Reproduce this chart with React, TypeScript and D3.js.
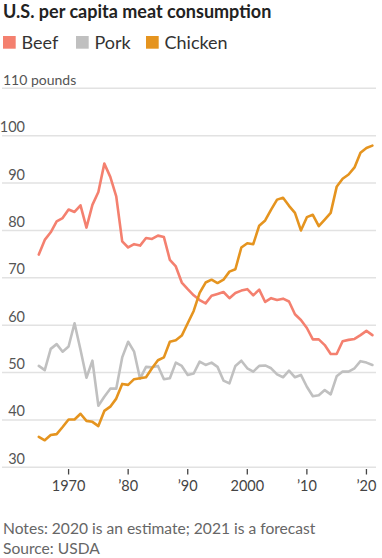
import React from "react";
import * as d3 from "d3";

const years: number[] = d3.range(1965, 2022);

const beef: number[] = [
  74.9, 78.0, 79.6, 81.9, 82.6, 84.4, 83.9, 85.3, 80.6, 85.4,
  88.1, 94.1, 91.3, 87.2, 77.7, 76.4, 77.1, 76.8, 78.4, 78.2,
  78.9, 78.6, 73.8, 72.4, 69.0, 67.6, 66.3, 65.3, 64.6, 66.2,
  66.6, 67.0, 65.7, 66.8, 67.3, 67.6, 66.3, 67.5, 64.9, 65.7,
  65.3, 65.6, 65.0, 62.3, 61.1, 59.4, 57.0, 57.0, 55.8, 53.9,
  53.9, 56.6, 56.9, 57.1, 57.9, 58.8, 57.9,
];

const pork: number[] = [
  51.4, 50.5, 55.0, 56.0, 54.4, 55.5, 60.4, 54.8, 48.9, 52.5,
  43.0, 44.9, 46.6, 46.6, 53.2, 56.5, 54.4, 48.7, 51.2, 51.1,
  51.4, 48.6, 48.8, 52.1, 51.4, 49.5, 49.8, 52.3, 51.6, 52.1,
  51.2, 48.3, 47.7, 51.4, 52.5, 50.9, 50.2, 51.4, 51.5, 50.9,
  49.6, 49.0, 50.4, 49.0, 49.5, 47.0, 45.0, 45.2, 46.3, 45.4,
  49.2, 50.2, 50.2, 50.9, 52.4, 52.1, 51.6,
];

const chicken: number[] = [
  36.4, 35.7, 36.8, 37.0, 38.5, 40.1, 40.1, 41.3, 39.8, 39.6,
  38.7, 41.9, 42.8, 44.5, 47.6, 47.4, 48.6, 48.8, 49.0, 50.9,
  52.6, 53.2, 56.5, 56.8, 57.8, 60.4, 63.0, 66.8, 69.0, 69.6,
  68.9, 69.6, 71.3, 71.8, 76.4, 77.3, 77.1, 81.0, 82.1, 84.4,
  86.5, 86.9, 85.2, 83.7, 80.0, 82.8, 83.3, 80.9, 82.3, 83.7,
  89.2, 90.9, 91.8, 93.3, 96.4, 97.4, 97.9,
];

const seriesNames: string[] = ["Beef", "Pork", "Chicken"];
const seriesColors: string[] = ["#f4806f", "#c0c0c0", "#e5941f"];

const yTicks: number[] = [30, 40, 50, 60, 70, 80, 90, 100, 110];
const xTicks: number[] = [1970, 1980, 1990, 2000, 2010, 2020];
const xTickLabels: string[] = ["1970", "\u201980", "\u201990", "2000", "\u201910", "\u201920"];

const title = "U.S. per capita meat consumption";
const noteLines: string[] = [
  "Notes: 2020 is an estimate; 2021 is a forecast",
  "Source: USDA",
];

const W = 382;
const H = 558;
const FONT = "Lato, 'Noto Sans', sans-serif";

export default function App() {
  const x = d3.scaleLinear().domain([1965, 2021]).range([38.8, 372.4]);
  const y = d3.scaleLinear().domain([30, 110]).range([467.3, 88.3]);

  const line = d3
    .line<number>()
    .x((_, i) => x(years[i]))
    .y((d) => y(d));

  const data = [beef, pork, chicken];
  const drawOrder = [1, 0, 2];

  const legendX = [3, 76, 146];

  return (
    <div style={{ position: "absolute", left: 0, top: 0 }}>
      <svg width={W} height={H} style={{ display: "block" }}>
        <rect width={W} height={H} fill="#fff" />
        <text x={3} y={17.5} fontFamily={FONT} fontWeight={700} fontSize={18} fill="#222">
          {title}
        </text>
        {seriesNames.map((n, i) => (
          <g key={n}>
            <rect x={legendX[i]} y={36} width={12.7} height={12.7} fill={seriesColors[i]} />
            <text x={legendX[i] + 18.5} y={49} fontFamily={FONT} fontSize={18} fill="#333">
              {n}
            </text>
          </g>
        ))}
        {yTicks.map((t) => (
          <g key={t}>
            <line x1={2} x2={376} y1={y(t)} y2={y(t)} stroke="#e2e2e2" strokeWidth={1.5} />
            {t === 110 ? (
              <text x={3} y={y(t) - 3} fontFamily={FONT} fontSize={14} fill="#555">
                110 pounds
              </text>
            ) : (
              <text x={25} y={y(t) - 3.5} textAnchor="end" fontFamily={FONT} fontSize={14.5} fill="#555">
                {t}
              </text>
            )}
          </g>
        ))}
        {xTicks.map((t, i) => (
          <g key={t}>
            <line x1={x(t)} x2={x(t)} y1={469} y2={474.5} stroke="#444" strokeWidth={1.3} />
            <text x={x(t)} y={491} textAnchor="middle" fontFamily={FONT} fontSize={14.5} fill="#444">
              {xTickLabels[i]}
            </text>
          </g>
        ))}
        {drawOrder.map((k) => (
          <path
            key={seriesNames[k]}
            d={line(data[k]) || ""}
            fill="none"
            stroke={seriesColors[k]}
            strokeWidth={2.6}
            strokeLinejoin="round"
            strokeLinecap="round"
          />
        ))}
        {noteLines.map((n, i) => (
          <text key={i} x={3} y={533.5 + i * 20} fontFamily={FONT} fontSize={15.6} fill="#666">
            {n}
          </text>
        ))}
      </svg>
    </div>
  );
}
